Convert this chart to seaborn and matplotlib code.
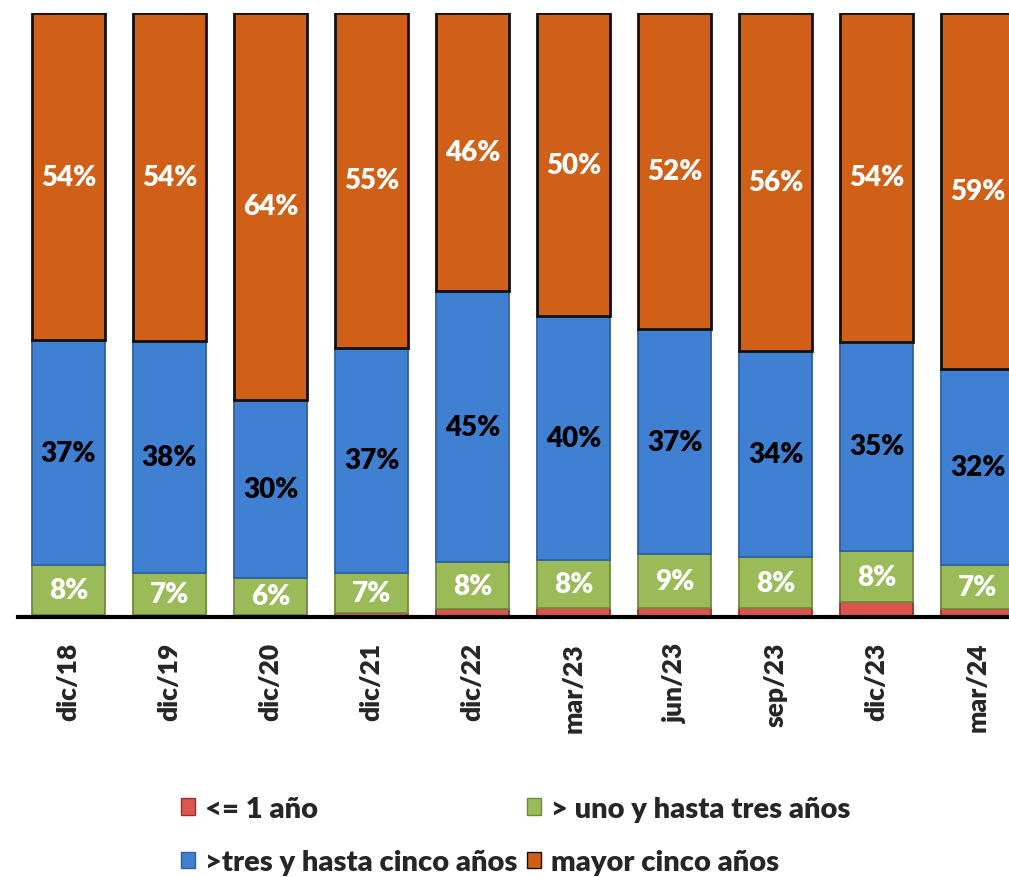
import pandas as pd
import matplotlib.pyplot as plt
import seaborn as sns
from matplotlib.patches import Patch

# data (percent of total, per period)
periods = ['dic/18', 'dic/19', 'dic/20', 'dic/21', 'dic/22',
           'mar/23', 'jun/23', 'sep/23', 'dic/23', 'mar/24']
hasta_1 = [0.3, 0.3, 0.3, 0.7, 1.3, 1.5, 1.5, 1.5, 2.5, 1.3]
uno_tres = [8.3, 7.0, 6.2, 6.6, 7.8, 8.0, 8.9, 8.4, 8.4, 7.3]
tres_cinco = [37.2, 38.4, 29.5, 37.3, 44.8, 40.3, 37.2, 34.2, 34.7, 32.4]
mayor_cinco = [54.2, 54.3, 64.0, 55.4, 46.1, 50.2, 52.4, 55.9, 54.4, 59.0]

series = ['<= 1 año', '> uno y hasta tres años', '>tres y hasta cinco años', 'mayor cinco años']
colors = ['#DC5450', '#9BBB59', '#3F80D2', '#D06018']
edges = ['#9B2D2A', '#6E8B3D', '#2F5F9E', '#111111']
label_colors = [None, 'white', 'black', 'white']

df = pd.DataFrame({'periodo': periods, series[0]: hasta_1, series[1]: uno_tres,
                   series[2]: tres_cinco, series[3]: mayor_cinco})

sns.set_style('white')
plt.rcParams['font.family'] = ['Lato', 'DejaVu Sans']
plt.rcParams['font.weight'] = 'heavy'

fig = plt.figure(figsize=(10.09, 8.78), dpi=100)
ax = fig.add_axes([18 / 1009, 260 / 878, 1 - 18 / 1009, 604 / 878])

bottom = pd.Series([0.0] * len(periods))
for s, c, e, lc in zip(series, colors, edges, label_colors):
    sns.barplot(data=df, x='periodo', y=s, color=c, bottom=bottom.values,
                width=0.72, edgecolor=e, linewidth=2 if s == series[3] else 1.3,
                saturation=1, ax=ax)
    if lc is not None:
        for i, v in enumerate(df[s]):
            ax.text(i, bottom[i] + v / 2, f'{round(v):.0f}%', ha='center', va='center',
                    color=lc, fontsize=20, fontweight='heavy')
    bottom = bottom + df[s]

ax.set_xlabel('')
ax.set_ylabel('')
ax.set_yticks([])
for sp in ['left', 'right', 'top']:
    ax.spines[sp].set_visible(False)
ax.spines['bottom'].set_linewidth(3)
ax.spines['bottom'].set_color('black')

ax.set_xticks(range(len(periods)))
ax.set_xticklabels(periods, rotation=90, fontsize=19, fontweight='heavy')
ax.tick_params(axis='x', which='major', length=0, pad=18)
ax.set_xticks([i - 0.5 for i in range(len(periods))], minor=True)
ax.tick_params(axis='x', which='minor', direction='in', length=7, width=3, color='black')
ax.set_xlim(-0.5, 9.31)
ax.set_ylim(0, 100)

handles = [Patch(facecolor=colors[0], edgecolor=edges[0], label=series[0]),
           Patch(facecolor=colors[2], edgecolor=edges[2], label=series[2]),
           Patch(facecolor=colors[1], edgecolor=edges[1], label=series[1]),
           Patch(facecolor=colors[3], edgecolor=edges[3], label=series[3])]
fig.legend(handles=handles, ncol=2, loc='upper left', bbox_to_anchor=(166 / 1009, 1 - 782 / 878),
           frameon=False, handlelength=0.5, handleheight=0.5,
           handletextpad=0.35, columnspacing=0.3, labelspacing=0.95, borderpad=0,
           prop={'weight': 'heavy', 'size': 21})

fig.savefig('out.png', dpi=100)
